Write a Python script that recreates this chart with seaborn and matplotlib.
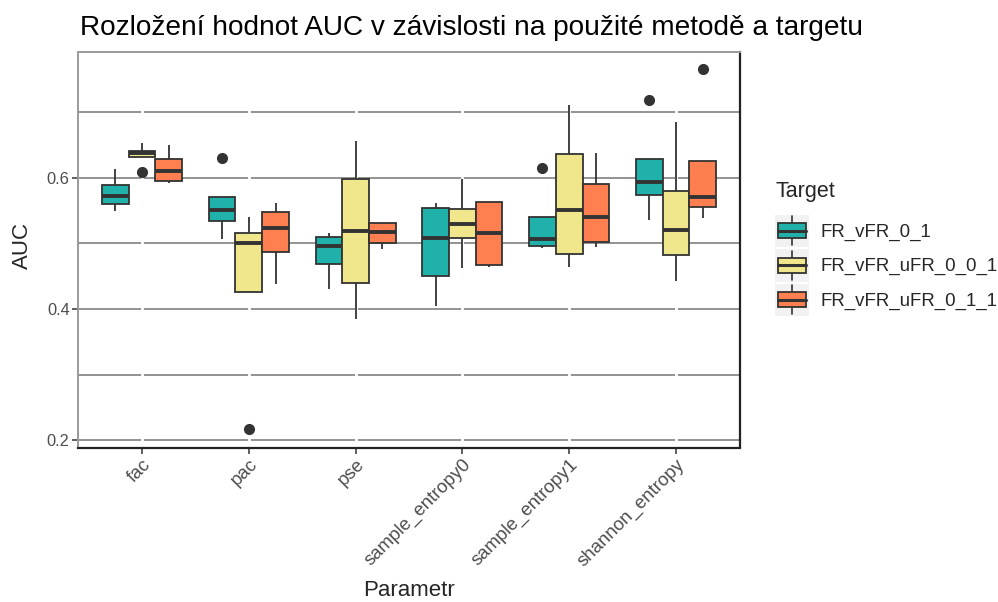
import numpy as np
import pandas as pd
import matplotlib
matplotlib.use("Agg")
import matplotlib.pyplot as plt
from matplotlib.patches import Rectangle
from matplotlib.lines import Line2D
from matplotlib.legend_handler import HandlerBase
import seaborn as sns

# ---------------- data ----------------
parameters = ["fac", "pac", "pse", "sample_entropy0", "sample_entropy1", "shannon_entropy"]
targets = ["FR_vFR_0_1", "FR_vFR_uFR_0_0_1", "FR_vFR_uFR_0_1_1"]

auc_fr_vfr_0_1 = [
    [0.550, 0.555, 0.560, 0.566, 0.5725, 0.580, 0.589, 0.600, 0.613],
    [0.5074, 0.520, 0.535, 0.543, 0.551, 0.562, 0.5715, 0.5715, 0.630],
    [0.4307, 0.450, 0.468, 0.482, 0.4963, 0.503, 0.510, 0.513, 0.5156],
    [0.4047, 0.430, 0.451, 0.480, 0.509, 0.530, 0.5537, 0.557, 0.561],
    [0.4937, 0.495, 0.4963, 0.501, 0.507, 0.525, 0.541, 0.541, 0.6148],
    [0.536, 0.555, 0.574, 0.584, 0.5934, 0.610, 0.629, 0.629, 0.719],
]
auc_fr_vfr_ufr_0_0_1 = [
    [0.6096, 0.6316, 0.6316, 0.635, 0.638, 0.640, 0.6417, 0.648, 0.654],
    [0.2166, 0.426, 0.426, 0.460, 0.501, 0.508, 0.5156, 0.528, 0.540],
    [0.3844, 0.410, 0.4393, 0.480, 0.519, 0.560, 0.5985, 0.630, 0.657],
    [0.462, 0.490, 0.5085, 0.520, 0.5298, 0.540, 0.5527, 0.575, 0.5985],
    [0.4647, 0.475, 0.484, 0.520, 0.551, 0.590, 0.636, 0.670, 0.711],
    [0.443, 0.460, 0.483, 0.500, 0.5207, 0.550, 0.5797, 0.630, 0.685],
]
auc_fr_vfr_ufr_0_1_1 = [
    [0.593, 0.594, 0.596, 0.603, 0.611, 0.620, 0.6295, 0.640, 0.650],
    [0.438, 0.460, 0.4866, 0.505, 0.5237, 0.535, 0.548, 0.555, 0.561],
    [0.492, 0.496, 0.5004, 0.510, 0.518, 0.525, 0.5313, 0.5313, 0.5313],
    [0.4647, 0.466, 0.467, 0.490, 0.5156, 0.540, 0.563, 0.563, 0.563],
    [0.4943, 0.498, 0.5028, 0.520, 0.541, 0.565, 0.590, 0.615, 0.6387],
    [0.5385, 0.547, 0.555, 0.563, 0.571, 0.600, 0.626, 0.626, 0.766],
]
y_ticks = [0.2, 0.4, 0.6]
y_minor = [0.3, 0.5, 0.7]

colors = ["#20B2AA", "#F0E68C", "#FF7F50"]

rows = []
for tgt, series in zip(targets, [auc_fr_vfr_0_1, auc_fr_vfr_ufr_0_0_1, auc_fr_vfr_ufr_0_1_1]):
    for par, vals in zip(parameters, series):
        for v in vals:
            rows.append({"Parametr": par, "AUC": v, "Target": tgt})
df = pd.DataFrame(rows)

# ---------------- plot ----------------
sns.set_theme(style="white")
plt.rcParams["font.family"] = ["Liberation Sans", "DejaVu Sans"]

fig = plt.figure(figsize=(9.98, 6.02), dpi=100)
ax = fig.add_axes([78 / 998, 1 - 447.5 / 602, (740 - 78) / 998, (447.5 - 52) / 602])

edge = "#333333"
sns.boxplot(
    data=df, x="Parametr", y="AUC", hue="Target", order=parameters, hue_order=targets,
    palette=colors, saturation=1, width=0.75, gap=0, dodge=True, linecolor=edge, linewidth=1.3,
    showcaps=False, whis=1.5,
    flierprops=dict(marker="o", markerfacecolor=edge, markeredgecolor=edge, markersize=7),
    medianprops=dict(linewidth=2.8, color=edge),
    legend=False, ax=ax,
)

ax.set_xlim(-0.6, len(parameters) - 0.4)
ax.set_ylim(0.1886, 0.7922)
ax.set_yticks(y_ticks)
ax.set_yticklabels([f"{t:.1f}" for t in y_ticks])
ax.set_yticks(y_minor, minor=True)
ax.set_axisbelow(True)
ax.grid(False)
ax.grid(which="both", axis="y", color="#8a8a8a", linewidth=1.3, zorder=0.5)
for i in range(len(parameters)):
    ax.axvline(i, color="white", linewidth=2.0, zorder=0.6)

ax.tick_params(axis="both", which="major", length=4, width=1.1, color="#333333",
               labelcolor="#4D4D4D", labelsize=11.8, left=True, bottom=True, pad=2)
ax.tick_params(axis="y", which="minor", length=0)
ax.set_xticks(range(len(parameters)))
ax.set_xticklabels(parameters, rotation=45, ha="right", rotation_mode="anchor")
for lab in ax.get_xticklabels():
    lab.set_fontsize(13.4)
ax.set_xlabel("")
ax.set_ylabel("")

for s in ["left", "top"]:
    ax.spines[s].set_color("#9a9a9a")
    ax.spines[s].set_linewidth(1.4)
for s in ["bottom", "right"]:
    ax.spines[s].set_color("#222222")
    ax.spines[s].set_linewidth(1.6)

fig.text(80 / 998, 1 - 35 / 602, "Rozložení hodnot AUC v závislosti na použité metodě a targetu",
         fontsize=20.2, color="black", ha="left", va="baseline")
fig.text(22 / 998, 1 - 245 / 602, "AUC", rotation=90, fontsize=16, ha="center", va="center")
fig.text(409 / 998, 1 - 591 / 602, "Parametr", fontsize=16, ha="center", va="center")


class BoxHandler(HandlerBase):
    def __init__(self, color):
        super().__init__()
        self.color = color

    def create_artists(self, legend, orig_handle, xdescent, ydescent, width, height, fontsize, trans):
        x0, y0 = -xdescent, -ydescent
        bg = Rectangle((x0, y0), width, height, facecolor="#F2F2F2", edgecolor="none", transform=trans)
        cx = x0 + width / 2
        wl = Line2D([cx, cx], [y0 + 0.05 * height, y0 + 0.95 * height], color=edge, lw=1.2, transform=trans)
        bx = Rectangle((x0 + 0.1 * width, y0 + 0.27 * height), 0.8 * width, 0.46 * height,
                       facecolor=self.color, edgecolor=edge, lw=1.3, transform=trans)
        md = Line2D([x0 + 0.1 * width, x0 + 0.9 * width], [y0 + 0.5 * height] * 2, color=edge, lw=2.2,
                    transform=trans)
        return [bg, wl, bx, md]


handles = [Rectangle((0, 0), 1, 1, label=t) for t in targets]
hmap = {h: BoxHandler(c) for h, c in zip(handles, colors)}
leg = fig.legend(handles=handles, labels=targets, handler_map=hmap, title="Target",
                 loc="upper left", bbox_to_anchor=(775 / 998, 1 - 181 / 602), frameon=False,
                 fontsize=13.4, title_fontsize=15.5, handlelength=1.85, handleheight=2.3,
                 labelspacing=0.12, handletextpad=0.6, borderpad=0.0, borderaxespad=0.0)
leg._legend_box.align = "left"
leg._legend_box.sep = 9

fig.savefig("out.png", dpi=100)
